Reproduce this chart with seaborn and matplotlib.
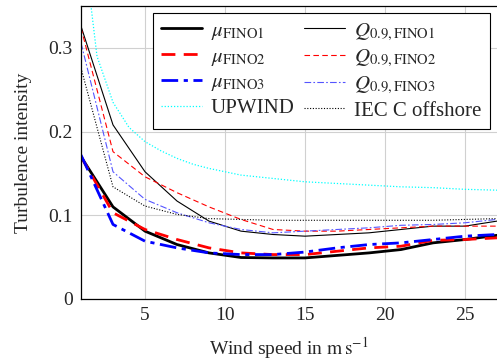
import numpy as np
import pandas as pd
import matplotlib
matplotlib.use("Agg")
import matplotlib.pyplot as plt
import seaborn as sns

# wind speed bins (m/s)
speed = [1, 3, 5, 7, 9, 11, 13, 15, 17, 19, 21, 23, 25, 27]

mu_fino1 = [0.170, 0.110, 0.081, 0.065, 0.055, 0.0495, 0.049, 0.049, 0.052, 0.055, 0.059, 0.067, 0.071, 0.076]
mu_fino2 = [0.170, 0.103, 0.083, 0.071, 0.061, 0.055, 0.053, 0.053, 0.057, 0.061, 0.063, 0.070, 0.071, 0.073]
mu_fino3 = [0.172, 0.089, 0.069, 0.061, 0.055, 0.053, 0.053, 0.056, 0.061, 0.065, 0.067, 0.071, 0.075, 0.077]

q_fino1 = [0.326, 0.208, 0.152, 0.117, 0.093, 0.081, 0.077, 0.075, 0.077, 0.079, 0.083, 0.087, 0.087, 0.093]
q_fino2 = [0.324, 0.176, 0.146, 0.127, 0.110, 0.095, 0.083, 0.081, 0.081, 0.083, 0.085, 0.087, 0.087, 0.087]
q_fino3 = [0.306, 0.152, 0.119, 0.103, 0.091, 0.083, 0.079, 0.081, 0.083, 0.085, 0.088, 0.089, 0.091, 0.095]

iec_c = [0.276, 0.134, 0.111, 0.101, 0.096, 0.095, 0.094, 0.094, 0.094, 0.094, 0.094, 0.094, 0.095, 0.096]

upwind_speed = [1, 2, 3, 4, 5, 6, 7, 8, 9, 10, 11, 13, 15, 17, 19, 21, 23, 25, 27]
upwind = [0.45, 0.29, 0.235, 0.205, 0.188, 0.177, 0.168, 0.161, 0.156, 0.152, 0.148, 0.144,
          0.140, 0.138, 0.136, 0.134, 0.133, 0.131, 0.130]

sns.set_theme(style="whitegrid")
plt.rcParams['font.family'] = ['Liberation Serif', 'DejaVu Serif']
plt.rcParams['mathtext.fontset'] = 'stix'
plt.rcParams['font.size'] = 14

fig = plt.figure(figsize=(4.97, 3.61), dpi=100)
ax = fig.add_axes([0.163, 0.172, 0.837, 0.811])

sns.lineplot(x=speed, y=mu_fino1, ax=ax, color='black', lw=2.0, label=r'$\mu_{\mathrm{FINO1}}$')
sns.lineplot(x=speed, y=q_fino1, ax=ax, color='black', lw=0.8, label=r'$Q_{0.9,\mathrm{FINO1}}$')
sns.lineplot(x=speed, y=mu_fino2, ax=ax, color='red', lw=2.0, label=r'$\mu_{\mathrm{FINO2}}$')
sns.lineplot(x=speed, y=q_fino2, ax=ax, color='red', lw=0.8, label=r'$Q_{0.9,\mathrm{FINO2}}$')
sns.lineplot(x=speed, y=mu_fino3, ax=ax, color='blue', lw=2.0, label=r'$\mu_{\mathrm{FINO3}}$')
sns.lineplot(x=speed, y=q_fino3, ax=ax, color='#5555ff', lw=0.8, label=r'$Q_{0.9,\mathrm{FINO3}}$')
sns.lineplot(x=upwind_speed, y=upwind, ax=ax, color='cyan', lw=0.9, label='UPWIND')
sns.lineplot(x=speed, y=iec_c, ax=ax, color='black', lw=0.8, label='IEC C offshore')

lines = ax.get_lines()
lines[2].set_dashes([5, 3])
lines[3].set_dashes([5, 3])
lines[4].set_dashes([6, 2, 1.5, 2])
lines[5].set_dashes([6, 2, 1.5, 2])
lines[6].set_dashes([1, 1.5])
lines[7].set_dashes([1, 1.5])

handles, labels = ax.get_legend_handles_labels()
order = [0, 2, 4, 6, 1, 3, 5, 7]
leg = ax.legend([handles[i] for i in order], [labels[i] for i in order], ncol=2,
                loc='upper right', bbox_to_anchor=(0.983, 0.977), borderaxespad=0,
                fancybox=False, edgecolor='black', framealpha=1, handlelength=1.95,
                columnspacing=0.45, labelspacing=0.25, borderpad=0.4, handletextpad=0.45,
                fontsize=15)
leg.get_frame().set_linewidth(0.8)

ax.set_xlim(1, 27)
ax.set_ylim(0, 0.35)
ax.set_xticks([5, 10, 15, 20, 25])
ax.set_yticks([0, 0.1, 0.2, 0.3])
ax.set_yticklabels(['0', '0.1', '0.2', '0.3'])
ax.grid(True, color='#d0d0d0', lw=0.8)
ax.tick_params(direction='in', length=4, color='#808080', labelsize=14, pad=6)
for side in ['left', 'bottom', 'top']:
    ax.spines[side].set_color('black')
    ax.spines[side].set_linewidth(0.9)
ax.spines['right'].set_visible(False)

ax.set_xlabel(r'Wind speed in $\mathrm{m\,s^{-1}}$', fontsize=14, labelpad=8)
ax.set_ylabel('Turbulence intensity', fontsize=14, labelpad=12)

fig.savefig('out.png', dpi=100)
